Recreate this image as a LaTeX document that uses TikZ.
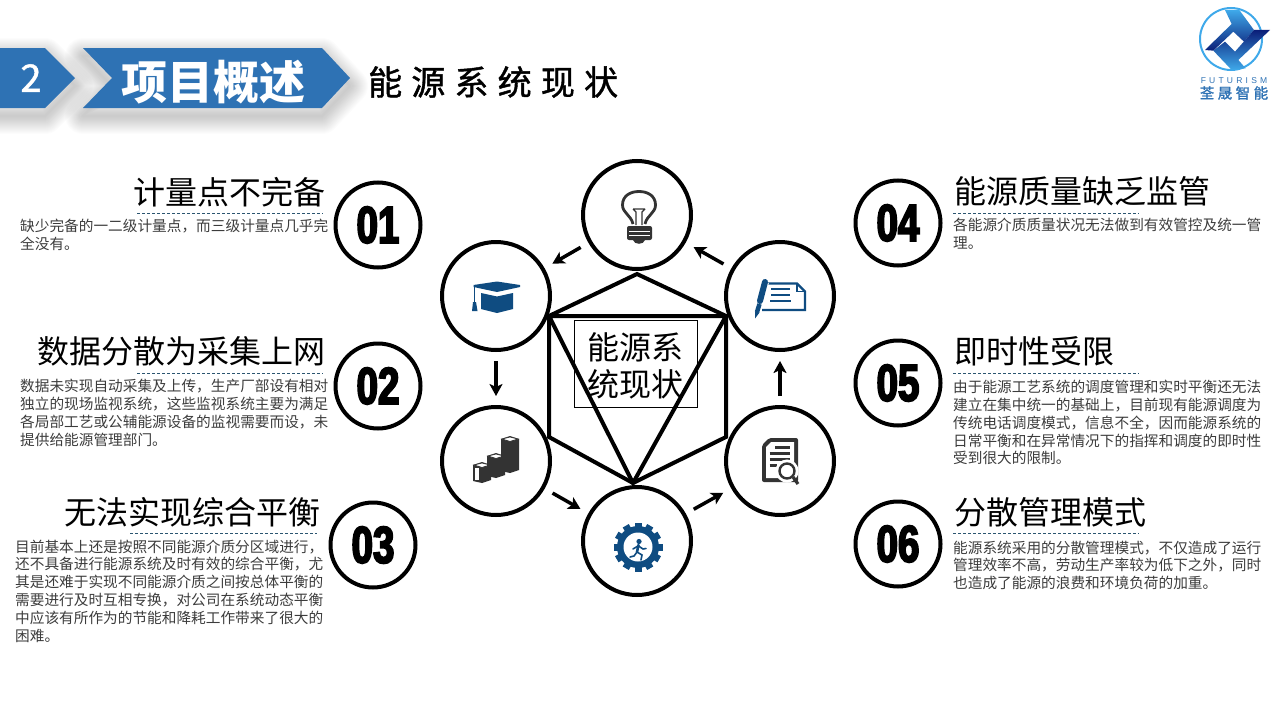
\documentclass[tikz,border=0pt]{standalone}
\usepackage{fontspec}
\setmainfont{Noto Sans CJK SC}
\newfontfamily\numfont[FakeStretch=0.74,FakeBold=3.5]{Liberation Sans Bold}
\newfontfamily\headfont[LetterSpace=27,FakeBold=1.2]{Noto Sans CJK SC}
\newfontfamily\logofont[LetterSpace=38]{Liberation Sans}
\newfontfamily\logocjk[LetterSpace=24,FakeBold=1.6]{Noto Sans CJK SC}
\usetikzlibrary{positioning, arrows.meta}
\definecolor{bannerblue}{HTML}{2E72B4}
\definecolor{iconblue}{HTML}{0F4C81}
\definecolor{icondark}{HTML}{333333}
\definecolor{bodygray}{HTML}{3C3C3C}
\definecolor{rulegray}{HTML}{2B5570}
\definecolor{logonavy}{HTML}{0B1E78}
\definecolor{logosky}{HTML}{3FA9EA}
\tikzset{
  ring/.style={circle,draw,line width=4pt,minimum size=108pt,fill=white,inner sep=0pt},
  numring/.style={circle,draw,line width=4pt,minimum size=85pt,inner sep=0pt,font=\numfont\fontsize{52}{52}\selectfont},
  title/.style={inner sep=0pt,font=\fontsize{32}{36}\selectfont},
  body/.style={inner sep=0pt,anchor=north west,align=left,text=bodygray,font=\fontsize{14.67}{17.8}\selectfont},
  dashrule/.style={draw=rulegray,line width=.8pt,dash pattern=on 3pt off 2pt},
  flow/.style={-{Stealth[length=12pt,width=13pt,inset=3pt]},line width=3.5pt,shorten >=9pt,shorten <=9pt},
  chevfirst/.style={insert path={(-20,48) -- (45,48) -- (75,78) -- (45,108) -- (-20,108) -- cycle}},
  chevsecond/.style={insert path={(83,48) -- (322,48) -- (350,78) -- (322,108) -- (83,108) -- (112,78) -- cycle}}
}
\begin{document}
\begin{tikzpicture}[x=1pt,y=-1pt]
\useasboundingbox (0,0) rectangle (1280,720);

\foreach \w in {2,4,...,36} {
  \draw[black,draw opacity=.01,line width=\w pt,line join=round,yshift=-8pt,chevfirst];
  \draw[black,draw opacity=.01,line width=\w pt,line join=round,yshift=-8pt,chevsecond];
}
\fill[bannerblue,chevfirst];
\fill[bannerblue,chevsecond];
\node[text=white,font=\headfont\fontsize{38}{40}\selectfont] (secnum) at (31,78) {2};
\node[text=white,font=\fontsize{46}{48}\bfseries\selectfont] (sectitle) at (213,82) {项目概述};
\node[anchor=west,inner sep=0pt,font=\headfont\fontsize{34}{36}\selectfont] (pagetitle) at (368,82) {能源系统现状};

\draw[draw=logosky,line width=2pt] (1231,39) circle (31);
\begin{scope}[shift={(1180,0)},scale=.3333]
\shade[top color=logosky,bottom color=logonavy]
  (135,30) -- (178,30) -- (222,90) -- (192,125) -- (160,95) -- (100,152) -- (75,150) -- (155,72) -- cycle;
\shade[top color=logonavy,bottom color=logosky]
  (100,152) -- (135,125) -- (165,155) -- (222,90) -- (270,90) -- (175,180) -- (197,205) -- (155,210) -- cycle;
\end{scope}
\node[text=bannerblue,font=\logofont\fontsize{8.5}{9}\selectfont] (logotext) at (1234,81) {FUTURISM};
\node[text=bannerblue,font=\logocjk\fontsize{14.5}{15}\selectfont] (logoname) at (1234,93) {荃晟智能};

\coordinate (h1) at (637,274);
\coordinate (h2) at (726,316);
\coordinate (h3) at (726,437);
\coordinate (h4) at (633,483);
\coordinate (h5) at (549,437);
\coordinate (h6) at (549,316);
\draw[line width=4pt] (h1) -- (h2) -- (h3) -- (h4) -- (h5) -- (h6) -- cycle;
\draw[line width=4pt] (h6) -- (h2) -- (h4) -- cycle;
\node[draw,line width=.8pt,minimum width=123pt,minimum height=87pt,inner sep=0pt,align=center,font=\fontsize{32}{37}\selectfont] (core) at (635.5,363.5) {\rule{0pt}{31pt}能源系\\统现状};

\node[ring] (bulb) at (637,215) {};
\node[ring] (cap) at (496,296) {};
\node[ring] (bars) at (496,461) {};
\node[ring] (gear) at (637,541) {};
\node[ring] (scan) at (780,461) {};
\node[ring] (note) at (780,296) {};

\path[flow]
(note) edge (bulb)
(bulb) edge (cap)
(cap) edge (bars)
(bars) edge (gear)
(gear) edge (scan)
(scan) edge (note);

\draw[icondark,line width=2.8pt] (633,224) .. controls (631,215) and (622.5,213) .. (622.5,205) .. controls (622.5,196) and (630,191.5) .. (639,191.5) .. controls (648,191.5) and (655.5,196) .. (655.5,205) .. controls (655.5,213) and (647,215) .. (645,224);
\draw[icondark,line width=1.4pt] (636,225) -- (636,212) -- (633,209) (642,225) -- (642,212) -- (645,209) (633,209) -- (645,209);
\fill[icondark,rounded corners=2pt] (627,226) rectangle (652,240);
\draw[white,line width=.9pt] (629,231) -- (650,231) (629,235.5) -- (650,235.5);
\fill[icondark] (633,240) .. controls (634,245) and (644,245) .. (645,240) -- cycle;

\fill[iconblue] (473.5,285) -- (497,281.5) -- (520,285) -- (520,287) -- (497,292) -- (473.5,287) -- cycle;
\fill[iconblue] (481,293) -- (497,296.5) -- (513,293) -- (513,309) -- (497,313) -- (481,309) -- cycle;
\draw[iconblue,line width=1.3pt] (474.5,286) -- (474.5,303);
\fill[iconblue] (473,302) -- (476,302) -- (477.5,311) -- (472,311) -- cycle;

\draw[iconblue,line width=2.2pt,fill=white] (766,283.5) -- (797,283.5) -- (805,291.5) -- (805,310) -- (762,310);
\draw[iconblue,line width=1.8pt] (797,283.5) -- (797,291.5) -- (805,291.5);
\draw[iconblue,line width=1.8pt] (771,289) -- (790,289) (771,295) -- (790,295) (770,301) -- (791,301);
\draw[white,line width=8pt] (765,282) -- (759,304);
\draw[iconblue,line width=6pt,line cap=round] (765,282) -- (760,301);
\draw[iconblue,line width=4.5pt] (759.5,304) -- (757,312);
\fill[iconblue] (755,311) -- (759.5,312.5) -- (755,318.5) -- cycle;

\foreach \x/\t/\b in {473/463/482,487/454/477,501/437/472} {
  \fill[icondark] (\x,\t+2) -- (\x+9,\t-1) -- (\x+18,\t+2) -- (\x+18,\b-2) -- (\x+9,\b+1) -- (\x,\b-1) -- cycle;
  \draw[icondark,fill=white,line width=.8pt] (\x+1,\t+2) -- (\x+9,\t) -- (\x+17,\t+2) -- (\x+9,\t+4.5) -- cycle;
}
\fill[white] (475,468) rectangle (479,480);

\fill[icondark,rounded corners=2pt] (769,438) -- (798,438) -- (798,482) -- (762,482) -- (762,445) -- cycle;
\fill[white] (771,442) -- (794,442) -- (794,478) -- (766,478) -- (766,447) -- cycle;
\draw[icondark,line width=2.6pt] (775,447.5) -- (790,447.5) (769.5,453.5) -- (790,453.5) (769.5,459.5) -- (790,459.5) (769.5,465.5) -- (777,465.5);
\draw[white,fill=white,line width=1pt] (787,471) circle (11);
\draw[icondark,line width=2.4pt] (787,471) circle (7.5);
\draw[icondark,line width=3.2pt] (793,477) -- (798,484);

\fill[iconblue] (638,547) circle (21);
\foreach \a in {0,30,...,330} {
  \fill[iconblue,shift={(638,547)},rotate=\a] (-3.5,-24.5) rectangle (3.5,-19);
}
\fill[white] (638,547) circle (14.5);
\fill[iconblue] (639,541.5) circle (2.6);
\draw[iconblue,line width=2.6pt,line cap=round] (638.5,545) -- (637,552);
\draw[iconblue,line width=1.6pt,line cap=round] (637,552) -- (642,555) -- (641,560) (637,552) -- (634,556) -- (630,557) (638,546) -- (633,549) (638.5,546) -- (643,549) -- (646,548.5);

\node[numring] (n1) at (378,225) {01};
\node[numring] (n2) at (378,386) {02};
\node[numring] (n3) at (373,545) {03};
\node[numring] (n4) at (898,223) {04};
\node[numring] (n5) at (898,383) {05};
\node[numring] (n6) at (898,544) {06};

\node[title,anchor=east] (t1) at (326,192) {计量点不完备};
\node[title,anchor=east] (t2) at (326,351) {数据分散为采集上网};
\node[title,anchor=east] (t3) at (321,512) {无法实现综合平衡};
\node[title,anchor=west] (t4) at (954,191) {能源质量缺乏监管};
\node[title,anchor=west] (t5) at (954,351) {即时性受限};
\node[title,anchor=west] (t6) at (954,512) {分散管理模式};

\draw[dashrule] (137,213) -- (323,213);
\draw[dashrule] (137,373) -- (323,373);
\draw[dashrule] (130,533) -- (317,533);
\draw[dashrule] (953,213) -- (1139,213);
\draw[dashrule] (953,373) -- (1139,373);
\draw[dashrule] (953,533) -- (1139,533);

\node[body] (b1) at (20,219) {缺少完备的一二级计量点，而三级计量点几乎完\\全没有。};
\node[body] (b2) at (20,379) {数据未实现自动采集及上传，生产厂部设有相对\\独立的现场监视系统，这些监视系统主要为满足\\各局部工艺或公辅能源设备的监视需要而设，未\\提供给能源管理部门。};
\node[body] (b3) at (15,539.5) {目前基本上还是按照不同能源介质分区域进行，\\还不具备进行能源系统及时有效的综合平衡，尤\\其是还难于实现不同能源介质之间按总体平衡的\\需要进行及时互相专换，对公司在系统动态平衡\\中应该有所作为的节能和降耗工作带来了很大的\\困难。};
\node[body] (b4) at (953,218) {各能源介质质量状况无法做到有效管控及统一管\\理。};
\node[body] (b5) at (953,380) {由于能源工艺系统的调度管理和实时平衡还无法\\建立在集中统一的基础上，目前现有能源调度为\\传统电话调度模式，信息不全，因而能源系统的\\日常平衡和在异常情况下的指挥和调度的即时性\\受到很大的限制。};
\node[body] (b6) at (953,540.5) {能源系统采用的分散管理模式，不仅造成了运行\\管理效率不高，劳动生产率较为低下之外，同时\\也造成了能源的浪费和环境负荷的加重。};
\end{tikzpicture}
\end{document}
